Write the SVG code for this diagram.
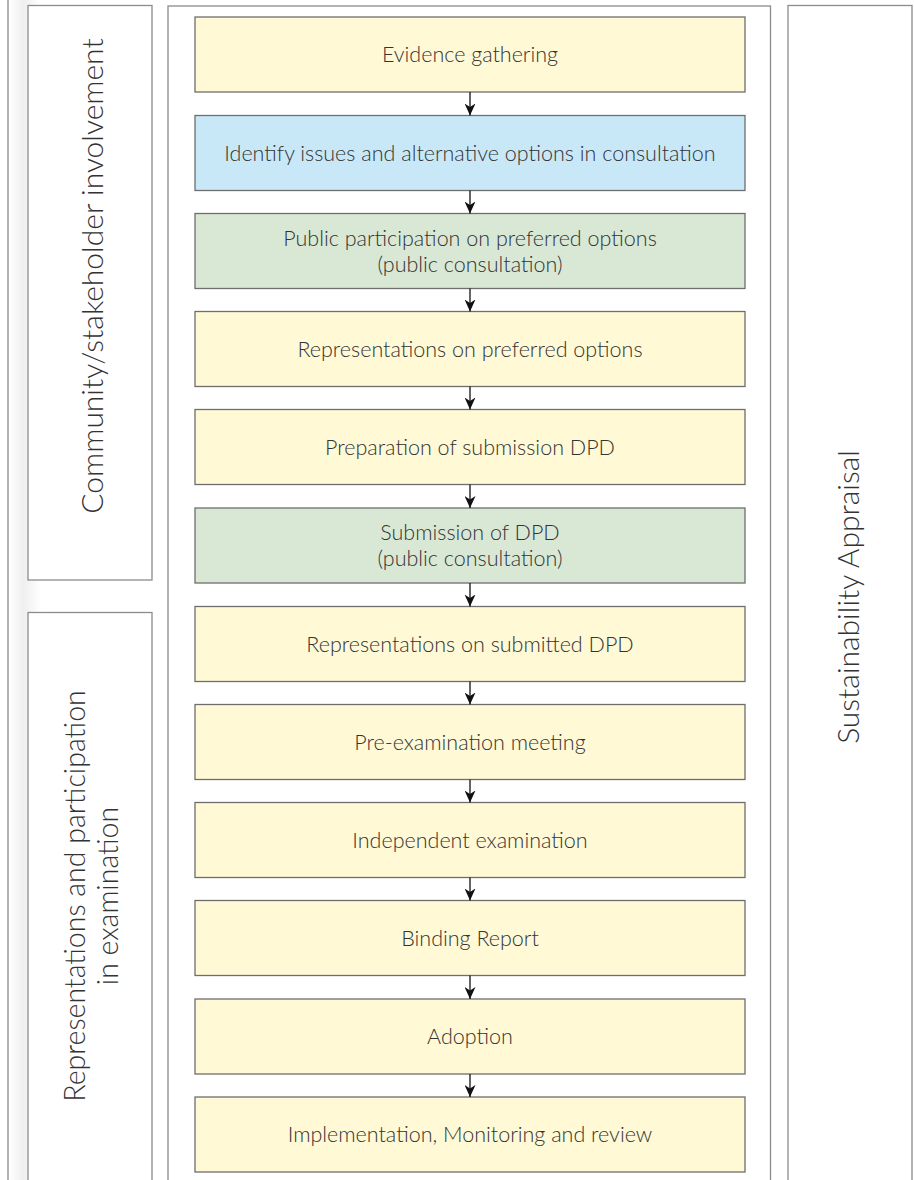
<svg xmlns="http://www.w3.org/2000/svg" width="914" height="1180" viewBox="0 0 914 1180">
<style>
.panel{fill:#ffffff;stroke:#8c8c8c;stroke-width:1.3}
.box{stroke:#6e6e6e;stroke-width:1.3}
.y{fill:#fff9d6}
.b{fill:#c8e8f8}
.g{fill:#d9e8d5}
.t{font-family:Lato,"Open Sans","Liberation Sans",sans-serif;font-weight:300;font-size:21.5px;fill:#333333;text-anchor:middle}
.side{font-family:Lato,"Open Sans","Liberation Sans",sans-serif;font-weight:300;font-size:30px;fill:#333333;text-anchor:middle}
.side2{font-size:28.5px}
.conn{stroke:#111;stroke-width:1.3;fill:none;marker-end:url(#ah)}
</style>
<defs>
<marker id="ah" markerUnits="userSpaceOnUse" markerWidth="12" markerHeight="11" refX="12" refY="5.5" orient="auto">
<path d="M0,0 L12,5.5 L0,11 L3.5,5.5 z" fill="#111"/>
</marker>
<linearGradient id="sh" x1="0" y1="0" x2="1" y2="0">
<stop offset="0" stop-color="#ffffff"/>
<stop offset="0.45" stop-color="#efefef"/>
<stop offset="1" stop-color="#ffffff"/>
</linearGradient>
</defs>
<rect x="0" y="0" width="914" height="1180" fill="#ffffff"/>
<rect x="9" y="0" width="32" height="1180" fill="url(#sh)"/>
<line x1="8" y1="0" x2="8" y2="1180" stroke="#8c8c8c" stroke-width="1.3"/>

<g id="panel-community">
<rect class="panel" x="28" y="5.5" width="124" height="574.5"/>
<text class="side" transform="translate(103,276) rotate(-90)">Community/stakeholder involvement</text>
</g>
<g id="panel-representations">
<rect class="panel" x="28" y="612.5" width="124" height="600"/>
<text class="side side2" transform="translate(85,896) rotate(-90)">Representations and participation</text>
<text class="side side2" transform="translate(118,896) rotate(-90)">in examination</text>
</g>
<g id="panel-process">
<rect class="panel" x="168" y="6" width="602.5" height="1200"/>
</g>
<g id="panel-sa">
<rect class="panel" x="788" y="5.5" width="124" height="1200"/>
<text class="side" transform="translate(859,597) rotate(-90)">Sustainability Appraisal</text>
</g>

<g id="n1"><rect class="box y" x="195" y="17" width="550" height="75"/><text class="t" x="470" y="62">Evidence gathering</text></g>
<g id="n2"><rect class="box b" x="195" y="115.5" width="550" height="75"/><text class="t" x="470" y="160.5">Identify issues and alternative options in consultation</text></g>
<g id="n3"><rect class="box g" x="195" y="213.5" width="550" height="75"/><text class="t" x="470" y="245.7">Public participation on preferred options</text><text class="t" x="470" y="271.7">(public consultation)</text></g>
<g id="n4"><rect class="box y" x="195" y="311.5" width="550" height="75"/><text class="t" x="470" y="356.5">Representations on preferred options</text></g>
<g id="n5"><rect class="box y" x="195" y="409.5" width="550" height="75"/><text class="t" x="470" y="454.5">Preparation of submission DPD</text></g>
<g id="n6"><rect class="box g" x="195" y="508" width="550" height="75"/><text class="t" x="470" y="540.2">Submission of DPD</text><text class="t" x="470" y="566.2">(public consultation)</text></g>
<g id="n7"><rect class="box y" x="195" y="606.5" width="550" height="75"/><text class="t" x="470" y="651.5">Representations on submitted DPD</text></g>
<g id="n8"><rect class="box y" x="195" y="704.5" width="550" height="75"/><text class="t" x="470" y="749.5">Pre-examination meeting</text></g>
<g id="n9"><rect class="box y" x="195" y="802.5" width="550" height="75"/><text class="t" x="470" y="847.5">Independent examination</text></g>
<g id="n10"><rect class="box y" x="195" y="900.5" width="550" height="75"/><text class="t" x="470" y="945.5">Binding Report</text></g>
<g id="n11"><rect class="box y" x="195" y="999" width="550" height="75"/><text class="t" x="470" y="1044">Adoption</text></g>
<g id="n12"><rect class="box y" x="195" y="1097" width="550" height="75"/><text class="t" x="470" y="1142">Implementation, Monitoring and review</text></g>

<g id="connectors">
<line class="conn" x1="470" y1="92" x2="470" y2="115.5"/>
<line class="conn" x1="470" y1="190.5" x2="470" y2="213.5"/>
<line class="conn" x1="470" y1="288.5" x2="470" y2="311.5"/>
<line class="conn" x1="470" y1="386.5" x2="470" y2="409.5"/>
<line class="conn" x1="470" y1="484.5" x2="470" y2="508"/>
<line class="conn" x1="470" y1="583" x2="470" y2="606.5"/>
<line class="conn" x1="470" y1="681.5" x2="470" y2="704.5"/>
<line class="conn" x1="470" y1="779.5" x2="470" y2="802.5"/>
<line class="conn" x1="470" y1="877.5" x2="470" y2="900.5"/>
<line class="conn" x1="470" y1="975.5" x2="470" y2="999"/>
<line class="conn" x1="470" y1="1074" x2="470" y2="1097"/>
</g>
</svg>
